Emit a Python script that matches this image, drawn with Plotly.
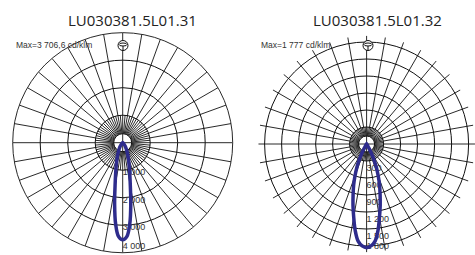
import plotly.graph_objects as go

W, H = 475, 255

# ---- data ----
angles = [0, 2.5, 5, 7.5, 10, 12.5, 15, 17.5, 20, 22.5, 25, 27.5, 30, 35, 40, 50, 60, 70, 80, 90]
left_c90 = [3530, 3420, 2960, 2250, 1600, 1200, 930, 740, 600, 480, 380, 310, 250, 150, 90, 30, 10, 0, 0, 0]
right_c90 = [1830, 1800, 1720, 1540, 1310, 1110, 920, 760, 600, 450, 310, 160, 60, 20, 10, 0, 0, 0, 0, 0]

left_ticks = [1000, 2000, 3000, 4000]
left_tick_labels = ["1 000", "2 000", "3 000", "4 000"]
right_ticks = [300, 600, 900, 1200, 1500, 1800]
right_tick_labels = ["300", "600", "900", "1 200", "1 500", "1 800"]

left_title = "LU030381.5L01.31"
right_title = "LU030381.5L01.32"
left_max = "Max=3 706,6 cd/klm"
right_max = "Max=1 777 cd/klm"

# ---- geometry (pixels) ----
L_cx, L_cy, L_rad = 122.7, 142.7, 110.0
L_rmax = 4000.0
R_x0, R_x1 = 258.2, 475.0
R_rad = (R_x1 - R_x0) / 2
R_cx, R_cy = (R_x0 + R_x1) / 2, 144.0
R_rmax = 1800 * R_rad / 102.0

GRID = "#111111"
CURVE = "#2e2c8c"
TXT = "#333333"


def px(x):
    return x / W


def py(y):
    return 1 - y / H


def mirror(a, v):
    th = [-x for x in reversed(a[1:])] + list(a)
    rr = list(reversed(v[1:])) + list(v)
    return th, rr


def spokes_trace(sub, rmax, r_hole, r_dense):
    rr, tt = [], []
    for a in range(0, 360, 10):
        if a % 90 == 0:
            continue
        rr += [r_hole, rmax, None]
        tt += [a, a, None]
    for a in range(5, 360, 10):
        rr += [r_hole, r_dense, None]
        tt += [a, a, None]
    rr += [rmax, 0, rmax, None, rmax, 0, rmax]
    tt += [0, 0, 180, None, 90, 90, 270]
    return go.Scatterpolar(r=rr, theta=tt, mode="lines", subplot=sub,
                           line=dict(color=GRID, width=0.9),
                           hoverinfo="skip", connectgaps=False)


def label_trace(sub, ticks, labels, k, cy, dy):
    rmax_lbl = (H - 8 - cy) / k
    return go.Scatterpolar(r=[min(t + dy / k, rmax_lbl) for t in ticks], theta=[0] * len(ticks),
                           mode="text", text=labels, textposition="middle right",
                           textfont=dict(family="Liberation Sans, Arial", size=9, color=TXT),
                           subplot=sub, cliponaxis=False, hoverinfo="skip")


fig = go.Figure()

kL = L_rad / L_rmax
kR = R_rad / R_rmax
L_hole = 9 / kL
R_hole = 8 / kR

fig.add_trace(spokes_trace("polar", L_rmax, L_hole, left_ticks[0]))
fig.add_trace(label_trace("polar", left_ticks, left_tick_labels, kL, L_cy, 3))
th, rr = mirror(angles, left_c90)
fig.add_trace(go.Scatterpolar(r=rr, theta=th, mode="lines", subplot="polar",
                              line=dict(color=CURVE, width=3.5, shape="spline", smoothing=1),
                              cliponaxis=False))

fig.add_trace(spokes_trace("polar2", R_rmax, R_hole, right_ticks[0]))
fig.add_trace(label_trace("polar2", right_ticks, right_tick_labels, kR, R_cy, 7.5))
th, rr = mirror(angles, right_c90)
fig.add_trace(go.Scatterpolar(r=rr, theta=th, mode="lines", subplot="polar2",
                              line=dict(color=CURVE, width=3.5, shape="spline", smoothing=1),
                              cliponaxis=False))


def radial(rmax, ticks, hole):
    return dict(visible=True, range=[0, rmax], tickvals=[hole] + list(ticks),
                showgrid=True, gridcolor=GRID, gridwidth=0.9,
                showticklabels=False, ticks="", showline=False)


fig.update_layout(
    width=W, height=H, autosize=False,
    margin=dict(l=0, r=0, t=0, b=0),
    paper_bgcolor="white", plot_bgcolor="white",
    showlegend=False,
    polar=dict(domain=dict(x=[px(L_cx - L_rad), px(L_cx + L_rad)],
                           y=[py(L_cy + L_rad), py(L_cy - L_rad)]),
               bgcolor="white",
               radialaxis=radial(L_rmax, left_ticks, L_hole),
               angularaxis=dict(rotation=-90, direction="counterclockwise", showgrid=False,
                                showticklabels=False, ticks="", showline=True,
                                linecolor=GRID, linewidth=0.9)),
    polar2=dict(domain=dict(x=[px(R_x0), 1.0],
                            y=[py(R_cy + R_rad), py(R_cy - R_rad)]),
                bgcolor="white",
                radialaxis=radial(R_rmax, right_ticks, R_hole),
                angularaxis=dict(rotation=-90, direction="counterclockwise", showgrid=False,
                                 showticklabels=False, ticks="", showline=False)),
)

ann = []
for cx, t in [(132, left_title), (377, right_title)]:
    ann.append(dict(x=px(cx), y=py(20), xref="paper", yref="paper", text=t, showarrow=False,
                    xanchor="center", yanchor="middle",
                    font=dict(family="Open Sans, Noto Sans", size=15, color="#222222")))
for x0, t in [(15, left_max), (259.5, right_max)]:
    ann.append(dict(x=px(x0), y=py(45), xref="paper", yref="paper", text=t, showarrow=False,
                    xanchor="left", yanchor="middle", borderpad=0,
                    font=dict(family="Liberation Sans, Arial", size=8.5, color=TXT)))
fig.update_layout(annotations=ann)

shapes = []
for cx in (123.0, 368.0):
    cy = 45.5
    shapes.append(dict(type="circle", xref="paper", yref="paper",
                       x0=px(cx - 5), x1=px(cx + 5), y0=py(cy + 5), y1=py(cy - 5),
                       line=dict(color=GRID, width=1), fillcolor="white"))
    shapes.append(dict(type="circle", xref="paper", yref="paper",
                       x0=px(cx - 4), x1=px(cx + 4), y0=py(cy + 0.5), y1=py(cy - 2.5),
                       line=dict(color=GRID, width=1)))
    shapes.append(dict(type="line", xref="paper", yref="paper",
                       x0=px(cx), x1=px(cx), y0=py(cy + 5), y1=py(cy + 0.5),
                       line=dict(color=GRID, width=1)))
fig.update_layout(shapes=shapes)

fig.write_html("out.html", config={"displayModeBar": False},
               post_script="document.body.style.margin='0';document.body.style.overflow='hidden';")
